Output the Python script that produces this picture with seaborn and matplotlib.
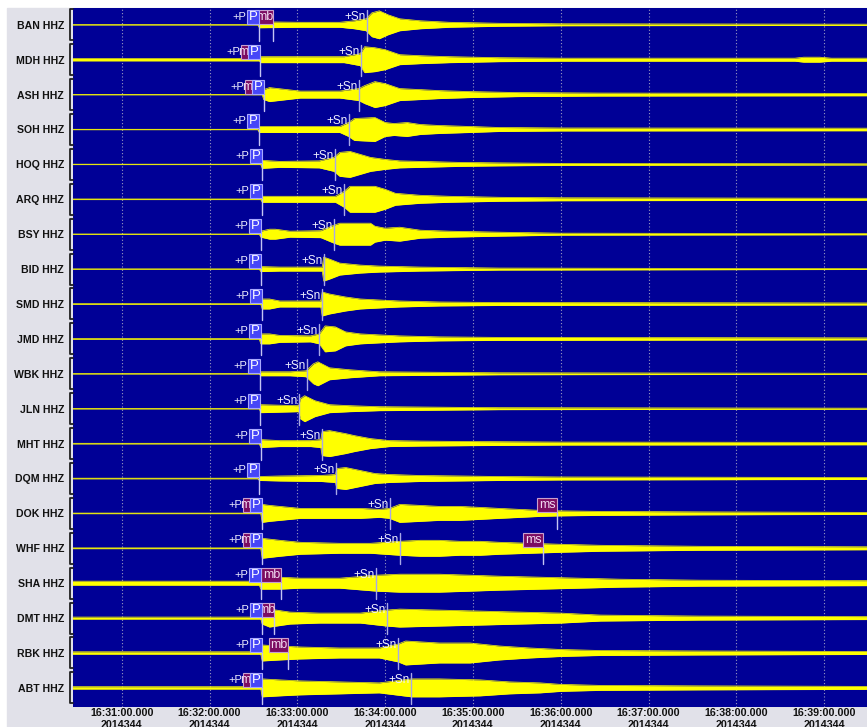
import matplotlib
matplotlib.use("Agg")
import numpy as np
import pandas as pd
import matplotlib.pyplot as plt
import seaborn as sns
from matplotlib.patches import Rectangle
from matplotlib.transforms import blended_transform_factory

# stations, top to bottom
stations = ["BAN", "MDH", "ASH", "SOH", "HOQ", "ARQ", "BSY", "BID", "SMD", "JMD",
            "WBK", "JLN", "MHT", "DQM", "DOK", "WHF", "SHA", "DMT", "RBK", "ABT"]

# envelope of each trace: seconds after 16:30:00 and half amplitude (screen px)
env_times = [
    [26, 153, 154, 182, 209, 219, 227, 231, 236, 242, 250, 264, 284, 318, 360, 570],
    [26, 154, 155, 182, 212, 223, 226, 233, 240, 250, 264, 284, 318, 360, 520, 526, 537, 545, 570],
    [26, 156, 157, 161, 182, 209, 222, 226, 233, 240, 250, 264, 277, 298, 332, 387, 570],
    [26, 153, 154, 182, 209, 215, 219, 233, 240, 246, 255, 264, 277, 298, 318, 360, 570],
    [26, 155, 156, 168, 195, 205, 209, 216, 230, 240, 250, 264, 291, 318, 360, 570],
    [26, 155, 156, 182, 206, 212, 216, 233, 240, 247, 264, 284, 318, 360, 570],
    [26, 154, 155, 161, 165, 175, 196, 205, 209, 230, 233, 240, 250, 264, 284, 318, 360, 570],
    [26, 154, 155, 168, 197, 198, 202, 209, 223, 236, 250, 264, 291, 318, 570],
    [26, 155, 156, 161, 168, 182, 196, 197, 202, 213, 223, 236, 250, 277, 318, 570],
    [26, 154, 155, 161, 168, 189, 195, 199, 206, 213, 223, 236, 250, 277, 318, 570],
    [26, 154, 155, 175, 186, 191, 194, 202, 216, 226, 236, 277, 318, 570],
    [26, 154, 155, 168, 181, 182, 185, 192, 202, 216, 236, 277, 318, 570],
    [26, 154, 155, 168, 189, 196, 197, 202, 213, 219, 230, 243, 264, 305, 360, 570],
    [26, 153, 154, 168, 196, 206, 207, 213, 223, 233, 243, 264, 291, 318, 360, 570],
    [26, 155, 156, 161, 182, 202, 223, 236, 243, 250, 264, 277, 291, 305, 318, 332, 346, 360, 387, 455, 570],
    [26, 155, 156, 168, 182, 209, 230, 250, 264, 277, 291, 305, 318, 339, 360, 387, 421, 455, 570],
    [26, 154, 155, 168, 182, 209, 234, 250, 277, 298, 318, 346, 373, 400, 455, 570],
    [26, 155, 156, 161, 175, 195, 223, 241, 250, 277, 305, 332, 360, 387, 455, 570],
    [26, 155, 156, 168, 182, 209, 236, 249, 254, 277, 298, 318, 339, 360, 387, 455, 570],
    [26, 155, 156, 168, 182, 209, 236, 258, 277, 305, 325, 346, 360, 387, 455, 570],
]
env_amps = [
    [0.2, 0.2, 3, 2.5, 2.5, 4, 6, 12, 14, 10, 6, 4, 2.5, 1.5, 1, 0.6],
    [1.2, 1.2, 3, 3, 3, 6, 13, 12, 10, 5, 4, 3, 2, 1.5, 1.5, 2.5, 2.5, 1.5, 1.5],
    [0.2, 0.2, 5, 7, 3.5, 3.5, 6, 9, 13, 11, 6, 5, 4, 3, 2, 1.5, 1.2],
    [0.2, 0.2, 3, 3, 3, 7, 11, 12, 7, 6, 7, 5, 4, 3, 2, 1.5, 1.3],
    [0.2, 0.2, 4, 3, 3.5, 7, 12, 13, 7, 5, 3.5, 3, 2, 1.5, 1, 0.6],
    [0.3, 0.3, 3, 3, 3, 8, 13, 13, 10, 6, 4, 3, 2, 1.5, 1],
    [0.2, 0.2, 3, 5, 5, 3, 3.5, 9, 11, 11, 8, 6, 7, 4, 3, 2, 1, 0.6],
    [0.2, 0.2, 2.5, 2, 2, 12, 10, 6, 4, 3, 2.5, 2, 1.5, 1, 0.4],
    [0.3, 0.3, 5, 5, 3, 3, 3, 12, 10, 7, 5, 4, 3, 2, 1.5, 1],
    [0.3, 0.3, 5, 5, 3.5, 3, 5, 13, 12, 7, 5, 4, 3, 2, 1.5, 1],
    [0.2, 0.2, 2, 2, 3, 10, 12, 6, 4, 3, 2, 1.5, 1, 0.5],
    [0.2, 0.2, 4, 3.5, 3, 10, 13, 8, 4, 3, 2, 1.5, 1, 0.5],
    [0.3, 0.3, 4, 3, 3, 4, 12, 13, 10, 8, 5, 3, 2.5, 2, 1.5, 1.2],
    [0.3, 0.3, 2, 2.5, 3, 4, 10, 11, 8, 5, 4, 3, 2.5, 2, 1.5, 1],
    [0.3, 0.3, 9, 8, 5, 5, 5, 4, 5, 9, 8, 7, 7, 6, 5, 4, 3, 2.5, 2, 1.5, 1],
    [0.4, 0.4, 10, 8, 6, 5, 5, 7, 8, 8, 7, 7, 6, 5, 4, 3, 2.5, 2, 1.5],
    [2, 2, 6, 6, 5, 5, 8, 9, 9, 8, 7, 6, 5, 4, 3, 2.5],
    [1, 1, 6, 9, 6, 5, 5, 8, 9, 8, 7, 6, 5, 3, 2, 1.5],
    [1.2, 1.2, 8, 7, 6, 5, 5, 9, 12, 10, 10, 7, 5, 3.5, 2.5, 2, 1.5],
    [1.2, 1.2, 9, 8, 7, 6, 5, 9, 9, 8, 6, 5, 3.5, 2.5, 2, 1.5],
]

# phase picks (seconds after 16:30:00)
p_pick = [153.8, 154.5, 157.2, 153.8, 155.9, 155.9, 155.2, 155.2, 155.9, 155.2,
          154.5, 154.5, 155.2, 153.8, 155.9, 155.9, 155.2, 155.9, 155.9, 155.9]
sn_pick = [227.4, 223.5, 222.1, 215.3, 205.8, 211.9, 205.1, 198.3, 196.9, 194.9,
           186.6, 181.2, 196.9, 206.5, 243.4, 250.2, 233.8, 241.3, 248.8, 257.7]
mb_station = ["BAN", "MDH", "ASH", "DOK", "WHF", "SHA", "DMT", "RBK", "ABT"]
mb_left = [151.1, 141.5, 144.3, 142.9, 142.9, 155.2, 153.1, 160.7, 142.9]
mb_right = [163.5, 149.0, 151.8, 150.4, 150.4, 168.9, 164.1, 173.6, 150.4]
ms_station = ["DOK", "WHF"]
ms_left = [343.8, 334.3]
ms_right = [357.5, 348.0]

tick_secs = [60, 120, 180, 240, 300, 360, 420, 480, 540]
tick_labels = ["16:31:00.000\n2014344", "16:32:00.000\n2014344", "16:33:00.000\n2014344",
               "16:34:00.000\n2014344", "16:35:00.000\n2014344", "16:36:00.000\n2014344",
               "16:37:00.000\n2014344", "16:38:00.000\n2014344", "16:39:00.000\n2014344"]

sns.set_style("white")
plt.rcParams['font.family'] = ['Liberation Sans', 'DejaVu Sans']

SPACING = 34.95
TOP = 24.3
SEC = 0.6834  # seconds per screen px
YEL = "#ffff00"

offsets = [TOP + SPACING * i for i in range(len(stations))]

rows = []
for name, off, ts, amps in zip(stations, offsets, env_times, env_amps):
    for t, a in zip(ts, amps):
        rows.append({"station": name, "t": t, "upper": off - a, "lower": off + a})
df = pd.DataFrame(rows)

fig = plt.figure(figsize=(8.67, 7.27), dpi=100)
fig.patch.set_facecolor("white")
fig.add_artist(Rectangle((7 / 867, 0), 1 - 7 / 867, (727 - 8) / 727,
                         transform=fig.transFigure, color="#e1e1e9", zorder=-10))
ax = fig.add_axes([73 / 867, 20 / 727, 794 / 867, 699 / 727])
ax.set_facecolor("#000096")

for name, off in zip(stations, offsets):
    sub = df[df["station"] == name]
    ax.fill_between(sub["t"], sub["upper"], sub["lower"], color=YEL, lw=0, zorder=2)
sns.lineplot(data=df, x="t", y="upper", units="station", estimator=None, sort=False,
             color=YEL, lw=0.5, legend=False, ax=ax, zorder=2)
sns.lineplot(data=df, x="t", y="lower", units="station", estimator=None, sort=False,
             color=YEL, lw=0.5, legend=False, ax=ax, zorder=2)

box_w = 12 * SEC
mb_map = {s: (l, r) for s, l, r in zip(mb_station, mb_left, mb_right)}
ms_map = {s: (l, r) for s, l, r in zip(ms_station, ms_left, ms_right)}
pick_col = "#c4c4f4"

for name, off, pp, sp in zip(stations, offsets, p_pick, sn_pick):
    p_left = pp - box_w
    first = p_left
    # mb box (partly hidden behind the P box where they overlap)
    if name in mb_map:
        l, r = mb_map[name]
        first = min(first, l)
        box = Rectangle((l, off - 15), r - l, 14, facecolor="#7c0c62",
                        edgecolor="#c8a0d0", lw=0.8, zorder=4)
        ax.add_patch(box)
        t = ax.text((l + r) / 2 + 0.4, off - 8, "mb", color="#f0d8f0", fontsize=9,
                    ha="center", va="center", zorder=4.5)
        t.set_clip_path(box)
        if r > pp:
            ax.plot([r, r], [off, off + 16], color=pick_col, lw=1, zorder=3)
    # P box
    ax.add_patch(Rectangle((p_left, off - 15), box_w, 14, facecolor="#4646f8",
                           edgecolor="#a8a8ff", lw=0.8, zorder=5))
    ax.text(p_left + box_w / 2, off - 8, "P", color="white", fontsize=9.5,
            ha="center", va="center", zorder=5.5)
    lead = ax.text(first - 1.0 * SEC, off - 8, "+P", color="#f0f0ff", fontsize=8,
                   ha="right", va="center", zorder=3.5)
    ax.plot([pp, pp], [off, off + 16], color=pick_col, lw=1, zorder=3)
    # Sn pick
    ax.plot([sp, sp], [off - 15, off + 16], color="#a8a8e8", lw=1, zorder=3)
    ax.text(sp - 1.2 * SEC, off - 8, "+Sn", color="#f0f0ff", fontsize=8.5,
            ha="right", va="center", zorder=3.5)
    # ms box
    if name in ms_map:
        l, r = ms_map[name]
        ax.add_patch(Rectangle((l, off - 15), r - l, 14, facecolor="#7c0c62",
                               edgecolor="#c8a0d0", lw=0.8, zorder=4))
        ax.text((l + r) / 2, off - 8, "ms", color="#f0d8f0", fontsize=9,
                ha="center", va="center", zorder=4.5)
        ax.plot([r, r], [off, off + 16], color=pick_col, lw=1, zorder=3)

# station labels and brackets on the grey panel
trans = blended_transform_factory(ax.transAxes, ax.transData)
bx0 = -3.5 / 794
bx1 = 0.0
for name, off in zip(stations, offsets):
    ax.plot([bx1, bx0, bx0, bx1], [off - 15.5, off - 15.5, off + 15.5, off + 15.5],
            color="#202020", lw=1.3, transform=trans, clip_on=False)
    ax.text(-9 / 794, off + 1, f"{name} HHZ", transform=trans, ha="right", va="center",
            fontsize=7.6, fontweight="bold", color="#111111")

ax.set_xlim(26.7, 569.3)
ax.set_ylim(707.5, 7.5)
ax.set_yticks([])
ax.set_xticks(tick_secs)
ax.set_xticklabels(tick_labels, fontsize=7.7, fontweight="bold", linespacing=1.25)
ax.tick_params(axis="x", length=0, pad=1, colors="#111111")
ax.grid(axis="x", color="#9a9ac0", ls=(0, (1, 2)), lw=0.8)
ax.set_axisbelow(True)
ax.set_xlabel("")
ax.set_ylabel("")
for s in ax.spines.values():
    s.set_visible(False)

fig.savefig("out.png", dpi=100, facecolor=fig.get_facecolor())
